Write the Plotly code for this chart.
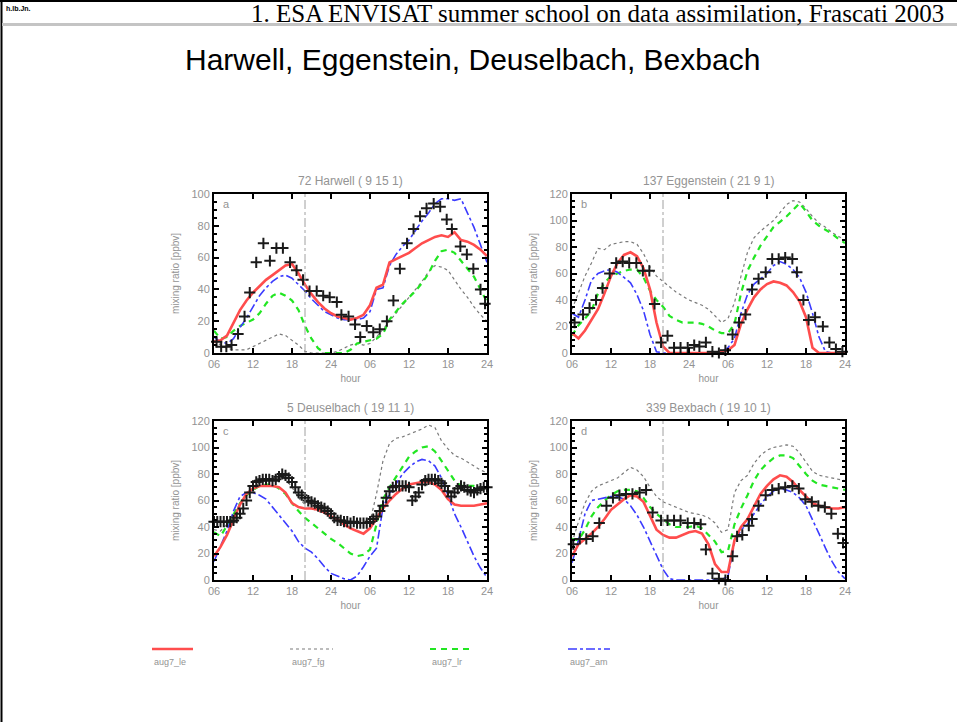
import plotly.graph_objects as go

# ---------------- data ----------------
HOURS = list(range(6, 49))  # model output, hourly, 06 h day 1 .. 24 h day 2
XTICK_VALS = [6, 12, 18, 24, 30, 36, 42, 48]
XTICK_TEXT = ["06", "12", "18", "24", "06", "12", "18", "24"]
MARK_HOUR = 20

SERIES_NAMES = ["aug7_le", "aug7_fg", "aug7_lr", "aug7_am"]

# ---- a: 72 Harwell ----
harwell_le = [7, 8, 11, 19, 27, 33, 38, 42, 46, 49, 52, 55, 56, 50, 43, 37, 32, 28, 25, 23, 22, 21, 22, 24,
              30, 41, 43, 57, 59, 61, 63, 66, 69, 71, 73, 74, 73, 76, 71, 70, 68, 65, 61]
harwell_fg = [8, 5, 3, 2, 2, 2, 4, 6, 8, 10, 12, 11, 8, 5, 1, 0, 0, 0, 0, 1, 3, 5, 6, 5,
              6, 10, 15, 20, 25, 30, 35, 40, 45, 51, 55, 54, 52, 46, 40, 35, 29, 24, 20]
harwell_lr = [14, 9, 10, 14, 17, 19, 21, 25, 31, 36, 38, 36, 33, 27, 17, 9, 3, 0, 0, 0, 0, 2, 6, 7,
              8, 9, 12, 21, 26, 31, 35, 39, 44, 50, 58, 64, 65, 63, 58, 53, 48, 40, 32]
harwell_am = [10, 7, 6, 9, 16, 22, 29, 36, 41, 45, 48, 49, 47, 43, 39, 34, 30, 26, 24, 22, 21, 21, 21, 22,
              26, 40, 41, 55, 62, 67, 71, 77, 83, 88, 94, 97, 97, 96, 97, 88, 79, 68, 57]
harwell_obs_hour = [6.4, 7.1, 7.9, 8.7, 9.7, 10.7, 11.5, 12.5, 13.6, 14.6, 15.6, 16.6, 17.7, 18.7, 19.7,
                    20.7, 21.8, 22.8, 23.8, 24.9, 25.6, 26.7, 27.7, 28.5, 29.5, 30.5, 31.5, 32.6, 33.6,
                    34.6, 35.7, 36.7, 37.7, 38.7, 39.8, 40.8, 41.8, 42.6, 43.9, 44.9, 45.9, 47.0, 47.7]
harwell_obs = [7, 4, 4, 5, 12, 23, 38, 57, 69, 58, 66, 66, 57, 52, 46,
               39, 39, 36, 35, 32, 24, 23, 18, 10, 17, 13, 15, 20, 33,
               53, 69, 78, 86, 91, 94, 92, 84, 78, 67, 62, 53, 40, 31]

# ---- b: 137 Eggenstein ----
eggenstein_le = [15, 11, 17, 25, 33, 45, 58, 68, 74, 76, 73, 64, 48, 23, 5, 0, 0, 0, 0, 0, 0, 0, 0, 1,
                 2, 6, 22, 33, 42, 48, 52, 54, 53, 51, 46, 39, 27, 4, 0, 0, 0, 0, 0]
eggenstein_fg = [33, 46, 58, 68, 79, 78, 82, 83, 84, 84, 82, 75, 65, 58, 54, 50, 46, 43, 40, 38, 36, 33, 28, 23,
                 26, 38, 58, 76, 87, 92, 96, 100, 106, 112, 115, 114, 109, 103, 98, 95, 91, 88, 85]
eggenstein_lr = [13, 21, 26, 32, 45, 53, 58, 60, 62, 63, 63, 57, 47, 40, 35, 28, 25, 23, 23, 23, 22, 20, 17, 15,
                 15, 22, 45, 62, 72, 81, 88, 95, 99, 103, 108, 113, 107, 100, 96, 93, 90, 86, 83]
eggenstein_am = [30, 27, 40, 55, 60, 62, 63, 61, 57, 53, 44, 32, 14, 1, 0, 0, 0, 0, 0, 0, 0, 0, 0, 1,
                 4, 11, 30, 44, 52, 56, 60, 66, 69, 67, 63, 57, 46, 30, 12, 1, 0, 0, 0]
eggenstein_obs_hour = [6.4, 7.7, 8.7, 9.7, 10.7, 11.8, 12.8, 13.8, 14.8, 15.9, 16.9, 17.9, 18.7, 19.7, 20.7,
                       21.7, 22.7, 23.8, 24.8, 25.6, 26.6, 27.6, 28.6, 29.6, 30.7, 31.7, 32.7, 33.7, 34.7,
                       35.8, 36.8, 37.8, 38.8, 39.9, 40.6, 41.6, 42.4, 43.4, 44.6, 45.6, 46.6, 47.6]
eggenstein_obs = [23, 29, 34, 40, 49, 60, 68, 69, 68, 68, 62, 62, 37, 8, 13,
                  4, 4, 4, 6, 5, 8, 1, 0, 2, 14, 23, 29, 48, 56,
                  61, 71, 71, 72, 71, 61, 40, 25, 27, 20, 8, 3, 1]

# ---- c: 5 Deuselbach ----
deuselbach_le = [18, 25, 34, 46, 57, 65, 69, 71, 71, 71, 70, 66, 58, 55, 54, 54, 53, 51, 48, 46, 42, 39, 37, 35,
                 39, 47, 54, 60, 65, 69, 72, 73, 74, 74, 72, 68, 61, 57, 56, 56, 56, 57, 58]
deuselbach_fg = [38, 37, 42, 50, 58, 65, 70, 73, 75, 77, 79, 76, 70, 62, 57, 54, 52, 50, 47, 45, 44, 43, 43, 43,
                 44, 65, 90, 103, 107, 108, 110, 112, 114, 117, 115, 105, 99, 94, 92, 89, 86, 83, 81]
deuselbach_lr = [36, 33, 41, 50, 58, 64, 68, 71, 72, 72, 69, 65, 58, 52, 47, 43, 39, 35, 31, 28, 24, 20, 18, 19,
                 23, 41, 61, 70, 78, 86, 93, 97, 100, 101, 97, 90, 82, 75, 71, 71, 71, 70, 68]
deuselbach_am = [14, 25, 37, 52, 63, 66, 66, 64, 61, 55, 49, 43, 37, 29, 24, 21, 16, 10, 5, 3, 1, 0, 3, 10,
                 18, 24, 55, 65, 73, 80, 85, 89, 91, 90, 86, 77, 64, 50, 40, 29, 18, 9, 2]
deuselbach_obs_hour = [6.0, 6.5, 7.0, 7.5, 8.0, 8.5, 9.0, 9.5, 10.0, 10.5, 11.0, 11.5, 12.0, 12.5, 13.0, 13.5,
                       14.0, 14.5, 15.0, 15.5, 16.0, 16.5, 17.0, 17.5, 18.0, 18.5, 19.0, 19.5, 20.0, 20.5,
                       21.0, 21.5, 22.0, 22.5, 23.0, 23.5, 24.0, 24.5, 25.0, 25.5, 26.0, 26.5, 27.0, 27.5,
                       28.0, 28.5, 29.0, 29.5, 30.0, 30.5, 31.0, 31.5, 32.0, 32.5, 33.0, 33.5, 34.0, 34.5,
                       35.0, 35.5, 36.0, 36.5, 37.0, 37.5, 38.0, 38.5, 39.0, 39.5, 40.0, 40.5, 41.0, 41.5,
                       42.0, 42.5, 43.0, 43.5, 44.0, 44.5, 45.0, 45.5, 46.0, 46.5, 47.0, 47.5, 48.0]
deuselbach_obs = [44, 44, 44, 44, 44, 44, 45, 47, 50, 54, 60, 66, 71, 74, 75, 76,
                  76, 76, 75, 76, 78, 80, 79, 77, 74, 70, 66, 64, 62, 60,
                  59, 58, 56, 55, 54, 52, 50, 47, 45, 45, 44, 44, 43, 44,
                  43, 43, 43, 43, 44, 46, 48, 52, 56, 62, 67, 70, 71, 71,
                  71, 71, 70, 60, 63, 66, 72, 75, 76, 76, 76, 75, 73, 71,
                  67, 63, 66, 69, 71, 70, 68, 67, 66, 68, 69, 70, 70]

# ---- d: 339 Bexbach ----
bexbach_le = [18, 27, 31, 35, 40, 46, 53, 57, 61, 64, 63, 59, 49, 38, 34, 32, 32, 34, 36, 37, 35, 27, 12, 6,
              6, 30, 40, 46, 56, 65, 71, 76, 79, 78, 74, 68, 63, 58, 56, 55, 54, 54, 55]
bexbach_fg = [28, 44, 58, 67, 71, 73, 75, 77, 81, 85, 83, 78, 70, 63, 59, 57, 55, 53, 51, 50, 49, 47, 43, 36,
              38, 66, 75, 79, 88, 94, 98, 100, 101, 102, 101, 96, 89, 82, 79, 78, 77, 76, 75]
bexbach_lr = [31, 30, 38, 48, 55, 60, 64, 67, 68, 68, 67, 62, 55, 50, 46, 42, 40, 40, 40, 41, 39, 34, 29, 21,
              22, 42, 54, 64, 75, 83, 88, 92, 94, 94, 92, 86, 80, 75, 72, 71, 70, 69, 68]
bexbach_am = [13, 30, 50, 60, 61, 62, 63, 63, 61, 56, 49, 40, 29, 19, 8, 1, 0, 0, 0, 0, 0, 0, 0, 0,
              3, 28, 38, 42, 50, 57, 63, 67, 69, 68, 66, 62, 56, 46, 35, 24, 14, 6, 1]
bexbach_obs_hour = [6.2, 7.2, 8.2, 9.2, 10.2, 11.3, 12.3, 13.3, 14.3, 15.3, 16.4, 17.4, 18.4, 19.7, 20.7,
                    21.7, 22.7, 23.8, 24.8, 25.8, 26.6, 27.6, 28.6, 29.6, 30.7, 31.4, 32.2, 33.2, 33.7,
                    34.7, 35.8, 36.8, 37.8, 38.8, 39.9, 40.9, 41.9, 42.9, 43.9, 44.9, 45.9, 46.9, 47.7]
bexbach_obs = [27, 31, 31, 33, 43, 56, 62, 64, 65, 65, 66, 68, 51, 45, 45,
               45, 45, 43, 43, 42, 23, 5, 1, 0, 18, 33, 34, 41, 46,
               56, 64, 68, 69, 70, 71, 69, 61, 59, 56, 55, 50, 35, 28]

PANELS = [
    dict(title="72 Harwell ( 9 15 1)", letter="a", ymax=100,
         lines=[harwell_le, harwell_fg, harwell_lr, harwell_am],
         obs_hour=harwell_obs_hour, obs=harwell_obs),
    dict(title="137 Eggenstein ( 21 9 1)", letter="b", ymax=120,
         lines=[eggenstein_le, eggenstein_fg, eggenstein_lr, eggenstein_am],
         obs_hour=eggenstein_obs_hour, obs=eggenstein_obs),
    dict(title="5 Deuselbach ( 19 11 1)", letter="c", ymax=120,
         lines=[deuselbach_le, deuselbach_fg, deuselbach_lr, deuselbach_am],
         obs_hour=deuselbach_obs_hour, obs=deuselbach_obs),
    dict(title="339 Bexbach ( 19 10 1)", letter="d", ymax=120,
         lines=[bexbach_le, bexbach_fg, bexbach_lr, bexbach_am],
         obs_hour=bexbach_obs_hour, obs=bexbach_obs),
]

# ---------------- styling / layout ----------------
W, H = 957, 722
STYLES = [
    dict(color="#ff4d4d", width=2.6, dash="solid"),
    dict(color="#7a7a7a", width=1.2, dash="dot"),
    dict(color="#22e622", width=2.2, dash="6px,5px"),
    dict(color="#3b3bff", width=1.6, dash="dashdot"),
]
DRAW_ORDER = [1, 2, 3, 0]
GRAY = "#939393"

# pixel boxes (left, top, right, bottom)
BOXES = [(214, 194, 487, 353), (572, 194, 845, 353),
         (214, 421, 487, 580), (572, 421, 845, 580)]


def fx(p):
    return p / W


def fy(p):
    return 1 - p / H


def note(text, x, y, size, color=GRAY, xanchor="center", family=None):
    font = dict(size=size, color=color)
    if family:
        font["family"] = family
    return dict(text=text, xref="paper", yref="paper", x=fx(x), y=fy(y),
                xanchor=xanchor, yanchor="middle", showarrow=False, font=font)


fig = go.Figure()
layout = dict(
    width=W, height=H, margin=dict(l=0, r=0, t=0, b=0, pad=0, autoexpand=False),
    paper_bgcolor="white", plot_bgcolor="white", showlegend=False,
    font=dict(family="Liberation Sans, Arial, sans-serif", color=GRAY),
)
annotations = []
shapes = []

for i, (panel, box) in enumerate(zip(PANELS, BOXES)):
    n = i + 1
    xa = "x" if n == 1 else f"x{n}"
    ya = "y" if n == 1 else f"y{n}"
    for k in DRAW_ORDER:
        st = STYLES[k]
        fig.add_trace(go.Scatter(
            x=HOURS, y=panel["lines"][k], mode="lines", name=SERIES_NAMES[k],
            line=dict(color=st["color"], width=st["width"], dash=st["dash"]),
            xaxis=xa, yaxis=ya))
    fig.add_trace(go.Scatter(
        x=panel["obs_hour"], y=panel["obs"], mode="markers", name="obs",
        marker=dict(symbol="cross-thin", size=8,
                    line=dict(color="#1a1a1a", width=2)),
        xaxis=xa, yaxis=ya, cliponaxis=False))

    l, t, r, b = box
    axis_common = dict(showgrid=False, zeroline=False, showline=True, linecolor="black",
                       linewidth=2, mirror="ticks", ticks="inside", ticklen=5, tickwidth=1.5,
                       tickcolor="black", tickfont=dict(size=11, color=GRAY), automargin=False)
    layout["xaxis" if n == 1 else f"xaxis{n}"] = dict(
        axis_common, domain=[fx(l), fx(r)], anchor=ya, range=[6, 48],
        tickvals=XTICK_VALS, ticktext=XTICK_TEXT,
        title=dict(text="hour", font=dict(size=10, color=GRAY), standoff=6))
    layout["yaxis" if n == 1 else f"yaxis{n}"] = dict(
        axis_common, domain=[fy(b), fy(t)], anchor=xa, range=[0, panel["ymax"]],
        dtick=20, minor=dict(ticks="inside", ticklen=3, dtick=5, tickcolor="black", showgrid=False),
        title=dict(text="mixing ratio [ppbv]", font=dict(size=10, color=GRAY), standoff=10))

    shapes.append(dict(type="line", xref=xa, yref=f"{ya} domain", x0=MARK_HOUR, x1=MARK_HOUR,
                       y0=0, y1=1, line=dict(color="#a0a0a0", width=1, dash="dashdot")))
    annotations.append(note(panel["title"], (l + r) / 2, t - 13, 12))
    annotations.append(note(panel["letter"], l + 7, t + 10, 11, xanchor="left"))

# legend drawn below the panels
LEGEND_X = [(152, 193), (290, 333), (430, 472), (568, 610)]
for k, (x0, x1) in enumerate(LEGEND_X):
    st = STYLES[k]
    shapes.append(dict(type="line", xref="paper", yref="paper", x0=fx(x0), x1=fx(x1),
                       y0=fy(649), y1=fy(649),
                       line=dict(color=st["color"], width=st["width"], dash=st["dash"])))
    annotations.append(note(SERIES_NAMES[k], x0, 662, 9, xanchor="left"))

# slide frame and header
shapes += [
    dict(type="line", xref="paper", yref="paper", x0=0, x1=1, y0=fy(1), y1=fy(1),
         line=dict(color="black", width=2)),
    dict(type="line", xref="paper", yref="paper", x0=fx(1.5), x1=fx(1.5), y0=0, y1=1,
         line=dict(color="black", width=2)),
    dict(type="line", xref="paper", yref="paper", x0=fx(2), x1=1, y0=fy(24.5), y1=fy(24.5),
         line=dict(color="#c4c4c4", width=3)),
]
annotations += [
    note("1. ESA ENVISAT summer school on data assimilation, Frascati 2003", 946, 13, 25,
         color="black", xanchor="right", family="Liberation Serif, Times New Roman, serif"),
    note("<b>h.lb.Jn.</b>", 4, 8, 7, color="black", xanchor="left"),
    note("Harwell, Eggenstein, Deuselbach, Bexbach", 472, 60, 30, color="black",
         family="Liberation Sans, Arial, sans-serif"),
]

layout["annotations"] = annotations
layout["shapes"] = shapes
fig.update_layout(**layout)
fig.write_html("out.html", config={"displayModeBar": False},
               post_script="document.body.style.margin='0';")
